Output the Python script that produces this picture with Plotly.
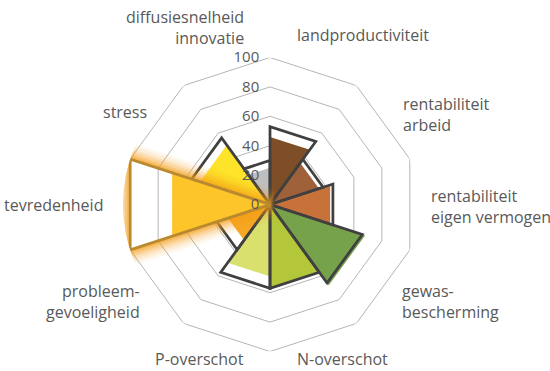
import plotly.graph_objects as go

# Scores per indicator (filled wedges) and the reference level (dark outlines),
# listed clockwise starting at the top.
categories = [
    "landproductiviteit",
    "rentabiliteit<br>arbeid",
    "rentabiliteit<br>eigen vermogen",
    "gewas-<br>bescherming",
    "N-overschot",
    "P-overschot",
    "probleem-<br>gevoeligheid",
    "tevredenheid",
    "stress",
    "diffusiesnelheid<br>innovatie",
]
scores = [46, 35, 43, 68, 57, 49, 30, 70, 50, 25]
reference = [53, 38, 45, 66, 57, 57, 38, 100, 56, 30]
fill_colors = [
    "#7E4E26", "#9E613A", "#C7713B", "#77A24C", "#B4C73A",
    "#D9E06E", "#F6A724", "#FEC52A", "#FDE42B", "#BFBFBF",
]
radial_ticks = [0, 20, 40, 60, 80, 100]
highlight = "tevredenheid"

# Label placement (pixel anchor, horizontal anchor)
label_pos = [
    (295, 35, "left"),
    (401, 114, "left"),
    (429, 207, "left"),
    (400, 301, "left"),
    (295, 359, "left"),
    (246, 359, "right"),
    (142, 301, "right"),
    (105, 205, "right"),
    (149, 112, "right"),
    (246, 28, "right"),
]

W, H = 550, 371
CX, CY, R = 270, 204.5, 147
n = len(categories)
step = 360 / n
TEXT = "#595959"
EDGE = "#404040"
RING = "#B5B5B5"


def wedge(i, value):
    a0, a1 = i * step, (i + 1) * step
    return [0, value, value, 0], [a0, a0, a1, a1]


fig = go.Figure()

# decagon grid rings
ring_theta = [k * step for k in range(n + 1)]
for t in radial_ticks[1:]:
    fig.add_trace(go.Scatterpolar(
        r=[t] * (n + 1), theta=ring_theta, mode="lines",
        line=dict(color=RING, width=1), hoverinfo="skip", showlegend=False))

hi = categories.index(highlight)

# filled wedges
for i in range(n):
    if i == hi:
        continue
    r, th = wedge(i, scores[i])
    fig.add_trace(go.Scatterpolar(
        r=r, theta=th, mode="lines", fill="toself", fillcolor=fill_colors[i],
        line=dict(color=fill_colors[i], width=0), hoverinfo="skip", showlegend=False))

# reference outlines
for i in range(n):
    if i == hi:
        continue
    r, th = wedge(i, reference[i])
    fig.add_trace(go.Scatterpolar(
        r=r, theta=th, mode="lines",
        line=dict(color=EDGE, width=2.75), hoverinfo="skip", showlegend=False))

# highlighted indicator: soft orange glow around its outline
r_hi, th_hi = wedge(hi, reference[hi])
r_loop = r_hi + [r_hi[1]]
th_loop = th_hi + [th_hi[1]]
for w, a in [(32, 0.07), (26, 0.1), (20, 0.14), (15, 0.2), (10, 0.27), (6, 0.32)]:
    fig.add_trace(go.Scatterpolar(
        r=r_loop, theta=th_loop, mode="lines",
        line=dict(color=f"rgba(246,158,24,{a})", width=w),
        hoverinfo="skip", showlegend=False))

fig.add_trace(go.Scatterpolar(
    r=r_hi, theta=th_hi, mode="lines", fill="toself", fillcolor="white",
    line=dict(color="white", width=0), hoverinfo="skip", showlegend=False))

a0, a1 = hi * step, (hi + 1) * step
for t in radial_ticks[1:-1]:
    fig.add_trace(go.Scatterpolar(
        r=[t, t], theta=[a0, a1], mode="lines",
        line=dict(color=RING, width=1), hoverinfo="skip", showlegend=False))

r, th = wedge(hi, scores[hi])
fig.add_trace(go.Scatterpolar(
    r=r, theta=th, mode="lines", fill="toself", fillcolor=fill_colors[hi],
    line=dict(color=fill_colors[hi], width=0), hoverinfo="skip", showlegend=False))

fig.add_trace(go.Scatterpolar(
    r=r_loop, theta=th_loop, mode="lines",
    line=dict(color="#B98A2F", width=2.75), hoverinfo="skip", showlegend=False))

# category labels
for name, (x, y, anchor) in zip(categories, label_pos):
    fig.add_annotation(
        text=name, x=x / W, y=1 - y / H, xref="paper", yref="paper",
        xanchor=anchor, yanchor="middle", align=anchor, showarrow=False,
        font=dict(family="Open Sans", size=16, color=TEXT))

fig.update_layout(
    width=W, height=H,
    margin=dict(l=0, r=0, t=0, b=0),
    paper_bgcolor="white",
    plot_bgcolor="white",
    showlegend=False,
    font=dict(family="Open Sans", color=TEXT),
    polar=dict(
        domain=dict(x=[(CX - R) / W, (CX + R) / W],
                    y=[1 - (CY + R) / H, 1 - (CY - R) / H]),
        bgcolor="rgba(0,0,0,0)",
        angularaxis=dict(rotation=90, direction="clockwise", showgrid=False,
                         showline=False, showticklabels=False, ticks=""),
        radialaxis=dict(range=[0, 100], tickvals=radial_ticks, showgrid=False,
                        showline=False, ticks="outside", ticklen=5,
                        tickcolor="rgba(0,0,0,0)", angle=90, side="counterclockwise",
                        tickangle=90, tickfont=dict(family="Open Sans", size=15, color=TEXT)),
    ),
)

fig.write_html("out.html")
